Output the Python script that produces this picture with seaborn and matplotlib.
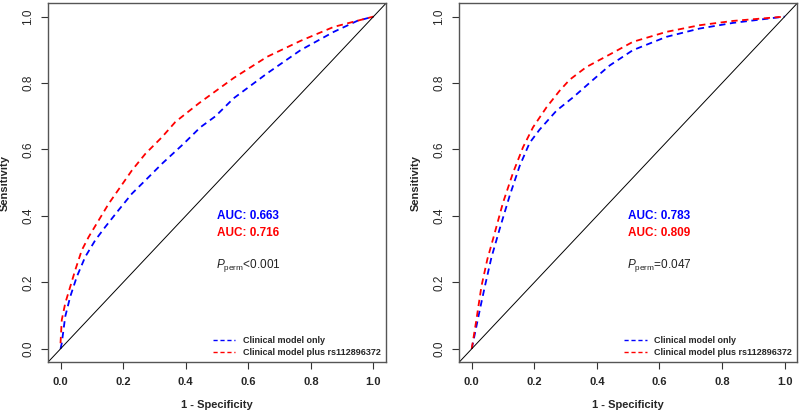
import matplotlib
matplotlib.use("Agg")
import matplotlib.pyplot as plt
import seaborn as sns
import pandas as pd

# panel 1 (left)
left_fpr_clin = [0.0, 0.004, 0.015, 0.031, 0.052, 0.079, 0.111, 0.143, 0.185, 0.228, 0.271, 0.324,
                 0.393, 0.447, 0.495, 0.553, 0.66, 0.767, 0.873, 0.948, 1.0]
left_tpr_clin = [0.0, 0.017, 0.097, 0.157, 0.217, 0.277, 0.327, 0.367, 0.417, 0.467, 0.507, 0.557,
                 0.617, 0.667, 0.7, 0.754, 0.829, 0.899, 0.954, 0.987, 1.0]
left_fpr_snp = [0.0, 0.004, 0.015, 0.031, 0.047, 0.068, 0.09, 0.122, 0.154, 0.191, 0.228, 0.271,
                0.324, 0.367, 0.442, 0.553, 0.66, 0.767, 0.873, 1.0]
left_tpr_snp = [0.017, 0.087, 0.137, 0.187, 0.237, 0.297, 0.337, 0.387, 0.437, 0.487, 0.537, 0.587,
                0.637, 0.683, 0.739, 0.815, 0.879, 0.927, 0.969, 1.0]

# panel 2 (right)
right_fpr_clin = [0.0, 0.004, 0.026, 0.042, 0.063, 0.089, 0.121, 0.153, 0.185, 0.217, 0.271, 0.324,
                  0.388, 0.441, 0.515, 0.622, 0.728, 0.835, 1.0]
right_tpr_clin = [0.0, 0.018, 0.118, 0.188, 0.275, 0.36, 0.46, 0.55, 0.62, 0.66, 0.717, 0.757,
                  0.81, 0.853, 0.899, 0.939, 0.964, 0.981, 1.0]
right_fpr_snp = [0.0, 0.015, 0.031, 0.05, 0.068, 0.1, 0.132, 0.164, 0.196, 0.239, 0.281, 0.313,
                 0.366, 0.441, 0.515, 0.622, 0.728, 0.835, 1.0]
right_tpr_snp = [0.0, 0.088, 0.188, 0.27, 0.33, 0.44, 0.53, 0.607, 0.667, 0.727, 0.777, 0.81,
                 0.848, 0.886, 0.924, 0.954, 0.974, 0.987, 1.0]

auc_left = ["AUC: 0.663", "AUC: 0.716"]
auc_right = ["AUC: 0.783", "AUC: 0.809"]
p_left = "<0.001"
p_right = "=0.047"
model_names = ["Clinical model only", "Clinical model plus rs112896372"]
colors = ["#0000ff", "#ff0000"]
ticks = [0.0, 0.2, 0.4, 0.6, 0.8, 1.0]

sns.set_theme(style="ticks")
plt.rcParams["font.family"] = ["Liberation Sans", "DejaVu Sans"]
plt.rcParams["mathtext.fontset"] = "custom"
plt.rcParams["mathtext.it"] = "Liberation Sans:italic"
plt.rcParams["mathtext.rm"] = "Liberation Sans"


def make_df(fc, tc, fs, ts):
    a = pd.DataFrame({"fpr": fc, "tpr": tc, "model": model_names[0]})
    b = pd.DataFrame({"fpr": fs, "tpr": ts, "model": model_names[1]})
    return pd.concat([a, b], ignore_index=True)


def draw(ax, df, aucs, ptxt):
    sns.lineplot(data=df, x="fpr", y="tpr", hue="model", palette=colors,
                 sort=False, estimator=None, ax=ax, lw=1.3, legend=False)
    for ln in ax.lines:
        ln.set_dashes((3.5, 2.5))
    ax.axline((0, 0), (1, 1), color="black", lw=0.7)
    ax.set_xlim(-0.04, 1.04)
    ax.set_ylim(-0.04, 1.04)
    ax.set_xticks(ticks)
    ax.set_yticks(ticks)
    ax.set_xticklabels([f"{t:.1f}" for t in ticks], fontweight="bold", fontsize=8)
    ax.set_yticklabels([f"{t:.1f}" for t in ticks], rotation=90, va="center", fontsize=8.5)
    ax.tick_params(axis="both", length=5, width=0.8, color="#333333", pad=5)
    ax.tick_params(axis="x", pad=6)
    for s in ax.spines.values():
        s.set_color("#555555")
        s.set_linewidth(1.0)
    ax.set_xlabel("1 - Specificity", fontweight="bold", fontsize=8, labelpad=9)
    ax.set_ylabel("Sensitivity", fontweight="bold", fontsize=8, labelpad=9)
    ax.text(0.6, 0.4, aucs[0], color=colors[0], fontweight="bold", fontsize=8.5, ha="center", va="center")
    ax.text(0.6, 0.35, aucs[1], color=colors[1], fontweight="bold", fontsize=8.5, ha="center", va="center")
    ax.text(0.6, 0.25, r"$\mathit{P}_{\mathrm{perm}}$" + ptxt, color="#222222", fontsize=8.5, ha="center", va="center")
    handles = [plt.Line2D([], [], color=c, lw=1.0, dashes=(3, 2)) for c in colors]
    ax.legend(handles, model_names, loc="lower right", frameon=False,
              prop={"weight": "bold", "size": 6.5}, handlelength=2.5,
              borderaxespad=0.2, labelspacing=0.25, handletextpad=0.8)


fig = plt.figure(figsize=(8, 4.12), dpi=100)
ax1 = fig.add_axes([0.06, 0.121, 0.4225, 0.871])
ax2 = fig.add_axes([0.574, 0.121, 0.4225, 0.871])

draw(ax1, make_df(left_fpr_clin, left_tpr_clin, left_fpr_snp, left_tpr_snp), auc_left, p_left)
draw(ax2, make_df(right_fpr_clin, right_tpr_clin, right_fpr_snp, right_tpr_snp), auc_right, p_right)

fig.savefig("out.png", dpi=100)
